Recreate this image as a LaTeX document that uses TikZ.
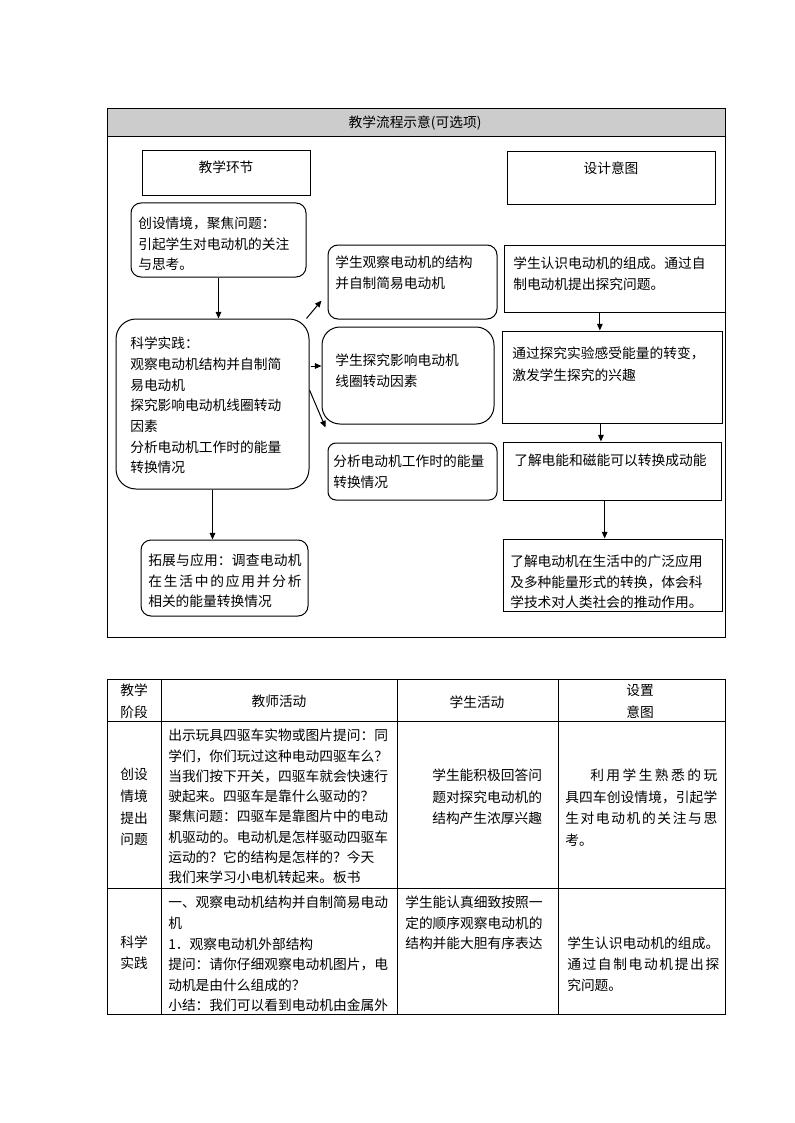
\documentclass[tikz,border=0pt]{standalone}
\usepackage{fontspec}
\newfontfamily\cjk{Noto Sans CJK SC}
\usetikzlibrary{fit,calc,arrows.meta}
\XeTeXlinebreaklocale "zh"
\XeTeXlinebreakskip=0pt plus 1pt
\definecolor{hdr}{HTML}{CCCCCC}
\begin{document}
\begin{tikzpicture}[x=0.75pt,y=-0.75pt,
  every node/.style={font=\cjk\fontsize{10.3}{15.3}\selectfont},
  bx/.style={draw, line width=0.75pt, inner sep=0pt},
  rb/.style={bx, rounded corners=#1},
  rb/.default=7.5pt,
  tx/.style={inner sep=0pt, anchor=north west, align=left},
  jt/.style={inner sep=0pt, anchor=north west, align=justify, text width=#1},
  ct/.style={inner sep=0pt, anchor=center, align=center},
  arr/.style={line width=0.75pt, -{Triangle[length=5pt,width=4.2pt]}},
  ln/.style={line width=0.75pt}]
\useasboundingbox (0,0) rectangle (794,1123);
\fill[white] (0,0) rectangle (794,1123);

% ---------- flow diagram frame ----------
\fill[hdr] (107,109) rectangle (725,137);
\draw[ln] (107,137) -- (725,137);
\draw[ln] (107,109) rectangle (725,637);
\node[ct] (title) at (415,123) {教学流程示意(可选项)};

% headers
\node[bx, fit={(142,151)(310,196)}] (h1) {};
\node[ct] (h1t) at (226,167) {教学环节};
\node[bx, fit={(507,152)(715,205)}] (h2) {};
\node[ct] (h2t) at (611,168) {设计意图};

% left column
\node[rb, fit={(131,203)(306,277)}] (L1) {};
\node[tx] (L1t) at (138,217) {创设情境，聚焦问题：\\引起学生对电动机的关注\\与思考。};

\node[rb=15pt, fit={(116,319)(309,489)}] (L2) {};
\node[tx, font=\cjk\fontsize{10.3}{15.5}\selectfont] (L2t) at (130,337) {科学实践：\\观察电动机结构并自制简\\易电动机\\探究影响电动机线圈转动\\因素\\分析电动机工作时的能量\\转换情况};

\node[rb, fit={(141,540)(308,616)}] (L3) {};
\node[jt=115pt] (L3t) at (148,554) {拓展与应用：调查电动机\linebreak 在生活中的应用并分析\linebreak 相关的能量转换情况};

% middle column
\node[rb, fit={(328,245)(497,319)}] (M1) {};
\node[tx, font=\cjk\fontsize{10.3}{15.8}\selectfont] (M1t) at (335,256) {学生观察电动机的结构\\并自制简易电动机};

\node[rb=13.5pt, fit={(322,327)(494,424)}] (M2) {};
\node[tx] (M2t) at (335,354) {学生探究影响电动机\\线圈转动因素};

\node[rb=6pt, fit={(328,443)(497,500)}] (M3) {};
\node[tx, font=\cjk\fontsize{10.3}{15.8}\selectfont] (M3t) at (333,455) {分析电动机工作时的能量\\转换情况};

% right column
\node[bx, fit={(504,245)(725,312)}] (R1) {};
\node[tx, font=\cjk\fontsize{10.3}{15.8}\selectfont] (R1t) at (513,257) {学生认识电动机的组成。通过自\\制电动机提出探究问题。};

\node[bx, fit={(502,331)(722,423)}] (R2) {};
\node[tx, font=\cjk\fontsize{10.3}{16}\selectfont] (R2t) at (512,347) {通过探究实验感受能量的转变，\\激发学生探究的兴趣};

\node[bx, fit={(503,442)(721,500)}] (R3) {};
\node[tx] (R3t) at (514,454) {了解电能和磁能可以转换成动能};

\node[bx, fit={(503,539)(722,611)}] (R4) {};
\node[tx] (R4t) at (510,555) {了解电动机在生活中的广泛应用\\及多种能量形式的转换，体会科\\学技术对人类社会的推动作用。};

% connectors
\draw[arr] (L1.south) -- (L1.south |- L2.north);
\draw[arr] (L2.south) -- (L2.south |- L3.north);
\draw[arr] ($(L2.north east)+(-3,0)$) -- ($(M1.south west)+(-6,-19)$);
\draw[arr] ($(L2.east)+(1,-38)$) -- ($(M2.west)+(0,-9.5)$);
\draw[arr] ($(L2.east)+(0,-14)$) -- ($(M3.north west)+(-2,-15)$);
\draw[arr] ([xshift=-11pt]R1.south) -- ([xshift=-11pt]R1.south |- R2.north);
\draw[arr] ([xshift=-8.3pt]R2.south) -- ([xshift=-8.3pt]R2.south |- R3.north);
\draw[arr] ([xshift=-5.5pt]R3.south) -- ([xshift=-5.5pt]R3.south |- R4.north);

% ---------- table ----------
\draw[ln] (107,679) rectangle (725,1014);
\draw[ln] (107,721) -- (725,721);
\draw[ln] (107,888) -- (725,888);
\foreach \x in {161,397,558} \draw[ln] (\x,679) -- (\x,1014);

\node[ct, font=\cjk\fontsize{10.3}{16.5}\selectfont] (th1) at (134,701) {教学\\阶段};
\node[ct] (th2) at (279,701) {教师活动};
\node[ct] (th3) at (477,702) {学生活动};
\node[ct, font=\cjk\fontsize{10.3}{16.5}\selectfont] (th4) at (640,701) {设置\\意图};

\node[ct, font=\cjk\fontsize{10.3}{16.3}\selectfont] (c21) at (134,807) {创设\\情境\\提出\\问题};
\node[tx, font=\cjk\fontsize{10.3}{15.2}\selectfont] (c22) at (168,729) {出示玩具四驱车实物或图片提问：同\\学们，你们玩过这种电动四驱车么？\\当我们按下开关，四驱车就会快速行\\驶起来。四驱车是靠什么驱动的？\\聚焦问题：四驱车是靠图片中的电动\\机驱动的。电动机是怎样驱动四驱车\\运动的？它的结构是怎样的？今天\\我们来学习小电机转起来。板书};
\node[tx, font=\cjk\fontsize{10.3}{16.1}\selectfont] (c23) at (432,769) {学生能积极回答问\\题对探究电动机的\\结构产生浓厚兴趣};
\node[jt=114pt, font=\cjk\fontsize{10.3}{16.1}\selectfont] (c24) at (565,769) {\hspace*{18.75pt}利用学生熟悉的玩\linebreak 具四车创设情境，引起学\linebreak 生对电动机的关注与思\linebreak 考。};

\node[ct, font=\cjk\fontsize{10.3}{15.75}\selectfont] (c31) at (134,952.5) {科学\\实践};
\node[tx, font=\cjk\fontsize{10.3}{15.45}\selectfont] (c32) at (168,896) {一、观察电动机结构并自制简易电动\\机\\1．观察电动机外部结构\\提问：请你仔细观察电动机图片，电\\动机是由什么组成的？\\小结：我们可以看到电动机由金属外};
\node[tx] (c33) at (405,896) {学生能认真细致按照一\\定的顺序观察电动机的\\结构并能大胆有序表达};
\node[jt=114pt, font=\cjk\fontsize{10.3}{15.4}\selectfont] (c34) at (567,937) {学生认识电动机的组成。\linebreak 通过自制电动机提出探\linebreak 究问题。};
\end{tikzpicture}
\end{document}
